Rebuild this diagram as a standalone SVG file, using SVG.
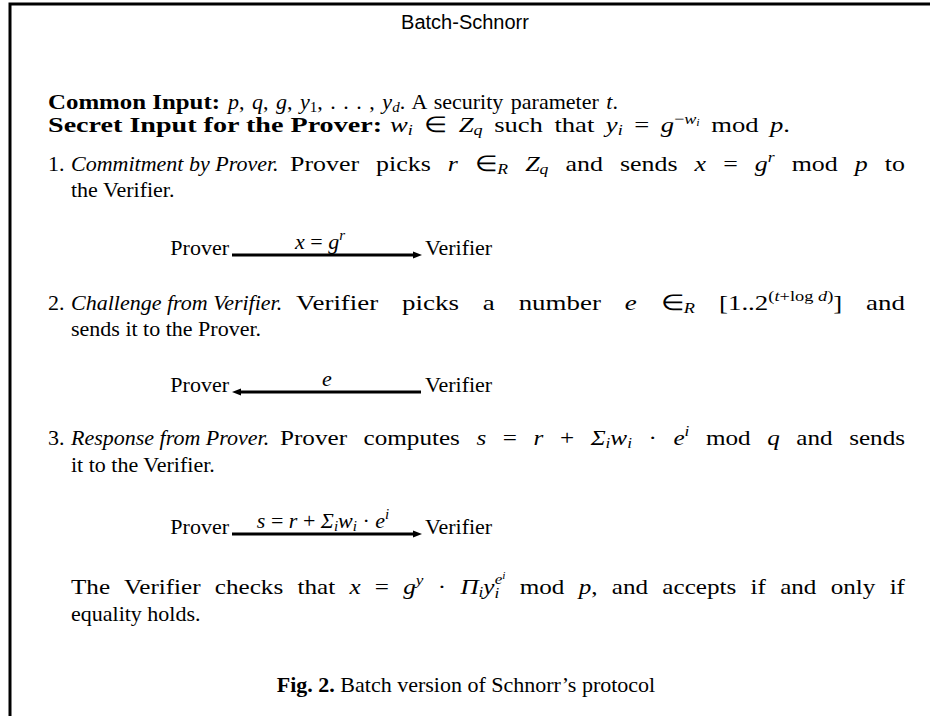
<svg xmlns="http://www.w3.org/2000/svg" width="930" height="716" viewBox="0 0 930 716">
<style>
text{font-family:"Liberation Serif","Times New Roman",serif;font-size:22px;fill:#000}
.b{font-weight:bold}
.i{font-style:italic}
.s{font-size:15px}
.t{font-family:"Liberation Sans",Arial,sans-serif;font-size:20px}
.arr{stroke:#000;stroke-width:3;fill:none}
</style>
<g id="frame"><path d="M10,716 V4 H930" fill="none" stroke="#000" stroke-width="3"/></g>
<g id="title"><text class="t" x="465" y="29" text-anchor="middle">Batch-Schnorr</text></g>
<g id="inputs">
<text class="b" x="48" y="109" textLength="172" lengthAdjust="spacingAndGlyphs">Common Input:</text>
<text x="228" y="109" textLength="390" lengthAdjust="spacingAndGlyphs" word-spacing="2"><tspan class="i">p</tspan>, <tspan class="i">q</tspan>, <tspan class="i">g</tspan>, <tspan class="i">y</tspan><tspan class="s" dy="3">1</tspan><tspan dy="-3">, . . . , </tspan><tspan class="i">y</tspan><tspan class="i s" dy="3">d</tspan><tspan dy="-3">. A security parameter </tspan><tspan class="i">t</tspan>.</text>
<text class="b" x="48" y="132" textLength="334" lengthAdjust="spacingAndGlyphs">Secret Input for the Prover:</text>
<text x="390" y="132" textLength="400" lengthAdjust="spacingAndGlyphs" word-spacing="4"><tspan class="i">w</tspan><tspan class="i s" dy="3">i</tspan><tspan dy="-3"> ∈ </tspan><tspan class="i">Z</tspan><tspan class="i s" dy="3">q</tspan><tspan dy="-3"> such that </tspan><tspan class="i">y</tspan><tspan class="i s" dy="3">i</tspan><tspan dy="-3"> = </tspan><tspan class="i">g</tspan><tspan class="s" dy="-8">−</tspan><tspan class="i s">w</tspan><tspan class="i" font-size="10" dy="2">i</tspan><tspan dy="6"> mod </tspan><tspan class="i">p</tspan>.</text>
</g>
<g id="step1">
<text x="48" y="171">1.</text>
<text class="i" x="71" y="171">Commitment by Prover.</text>
<text x="290" y="171" textLength="615" lengthAdjust="spacingAndGlyphs" word-spacing="9">Prover picks <tspan class="i">r</tspan> ∈<tspan class="i s" dy="3">R</tspan><tspan dy="-3"> </tspan><tspan class="i">Z</tspan><tspan class="i s" dy="3">q</tspan><tspan dy="-3"> and sends </tspan><tspan class="i">x</tspan> = <tspan class="i">g</tspan><tspan class="i s" dy="-9">r</tspan><tspan dy="9"> mod </tspan><tspan class="i">p</tspan> to</text>
<text x="71" y="197">the Verifier.</text>
</g>
<g id="step2">
<text x="48" y="310">2.</text>
<text class="i" x="71" y="310">Challenge from Verifier.</text>
<text x="296" y="310" textLength="609" lengthAdjust="spacingAndGlyphs" word-spacing="14">Verifier picks a number <tspan class="i">e</tspan> ∈<tspan class="i s" dy="3">R</tspan><tspan dy="-3"> [1..2</tspan><tspan class="s" dy="-9" word-spacing="0">(</tspan><tspan class="i s" word-spacing="0">t</tspan><tspan class="s" word-spacing="0">+log </tspan><tspan class="i s" word-spacing="0">d</tspan><tspan class="s">)</tspan><tspan dy="9">] and</tspan></text>
<text x="71" y="336">sends it to the Prover.</text>
</g>
<g id="step3">
<text x="48" y="445">3.</text>
<text class="i" x="71" y="445">Response from Prover.</text>
<text x="280" y="445" textLength="625" lengthAdjust="spacingAndGlyphs" word-spacing="9">Prover computes <tspan class="i">s</tspan> = <tspan class="i">r</tspan> + <tspan class="i">Σ</tspan><tspan class="i s" dy="3">i</tspan><tspan class="i" dy="-3">w</tspan><tspan class="i s" dy="3">i</tspan><tspan dy="-3"> · </tspan><tspan class="i">e</tspan><tspan class="i s" dy="-9">i</tspan><tspan dy="9"> mod </tspan><tspan class="i">q</tspan> and sends</text>
<text x="71" y="472">it to the Verifier.</text>
</g>
<g id="check">
<text x="71" y="594" textLength="834" lengthAdjust="spacingAndGlyphs" word-spacing="7">The Verifier checks that <tspan class="i">x</tspan> = <tspan class="i">g</tspan><tspan class="i s" dy="-9">y</tspan><tspan dy="9"> · </tspan><tspan class="i">Π</tspan><tspan class="i s" dy="3">i</tspan><tspan class="i" dy="-3">y</tspan><tspan class="i s" dy="4">i</tspan><tspan class="i s" dx="-4" dy="-14">e</tspan><tspan class="i" font-size="10" dy="-5">i</tspan><tspan dy="15"> mod </tspan><tspan class="i">p</tspan>, and accepts if and only if</text>
<text x="71" y="621">equality holds.</text>
</g>
<g id="prover1"><text x="229" y="255" text-anchor="end">Prover</text></g>
<g id="verifier1"><text x="425" y="255">Verifier</text></g>
<g id="prover2"><text x="229" y="392" text-anchor="end">Prover</text></g>
<g id="verifier2"><text x="425" y="392">Verifier</text></g>
<g id="prover3"><text x="229" y="534" text-anchor="end">Prover</text></g>
<g id="verifier3"><text x="425" y="534">Verifier</text></g>
<g id="connectors">
<line class="arr" x1="232" y1="255" x2="414" y2="255"/>
<polygon points="413,251.5 422,255 413,258.5"/>
<text x="320" y="249" text-anchor="middle"><tspan class="i">x</tspan> = <tspan class="i">g</tspan><tspan class="i s" dy="-9">r</tspan></text>
<line class="arr" x1="240" y1="392" x2="421" y2="392"/>
<polygon points="241,388.5 232,392 241,395.5"/>
<text class="i" x="327" y="386" text-anchor="middle">e</text>
<line class="arr" x1="232" y1="534" x2="414" y2="534"/>
<polygon points="413,530.5 422,534 413,537.5"/>
<text x="323" y="528" text-anchor="middle"><tspan class="i">s</tspan> = <tspan class="i">r</tspan> + <tspan class="i">Σ</tspan><tspan class="i s" dy="3">i</tspan><tspan class="i" dy="-3">w</tspan><tspan class="i s" dy="3">i</tspan><tspan dy="-3"> · </tspan><tspan class="i">e</tspan><tspan class="i s" dy="-9">i</tspan></text>
</g>
<g id="caption"><text x="466" y="692" text-anchor="middle" font-size="19"><tspan class="b">Fig. 2.</tspan> Batch version of Schnorr’s protocol</text></g>
</svg>
